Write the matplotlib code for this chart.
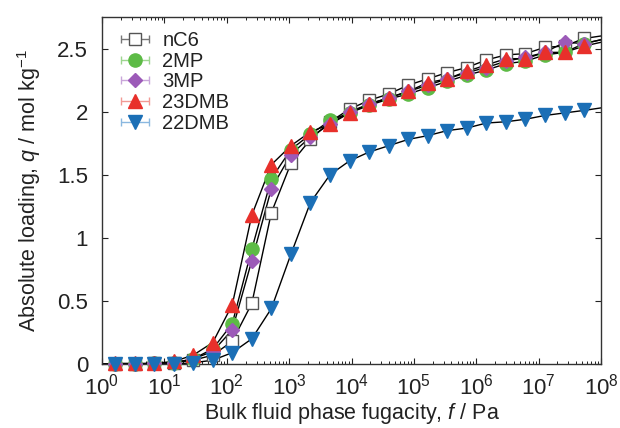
import numpy as np
import matplotlib
matplotlib.use("Agg")
import matplotlib.pyplot as plt
from matplotlib.legend_handler import HandlerErrorbar
from matplotlib.ticker import FuncFormatter, LogLocator, NullFormatter

plt.rcParams['font.family'] = ['Liberation Sans', 'DejaVu Sans']
plt.rcParams['mathtext.fontset'] = 'custom'
plt.rcParams['mathtext.rm'] = 'Liberation Sans'
plt.rcParams['mathtext.it'] = 'Liberation Sans:italic'
plt.rcParams['mathtext.default'] = 'regular'

# Bulk fluid phase fugacity, Pa
fugacity = [1.61, 3.32, 6.84, 14.1, 28.9, 59.6, 122.5, 252, 519, 1067,
            2193, 4519, 9290, 1.91e4, 3.94e4, 8.09e4, 1.66e5, 3.43e5,
            7.05e5, 1.45e6, 2.99e6, 6.14e6, 1.26e7, 2.60e7, 5.35e7]

# Absolute loadings, mol/kg
q_nC6 = [0.0, 0.0, 0.005, 0.01, 0.03, 0.07, 0.18, 0.48, 1.20, 1.59,
         1.78, 1.92, 2.02, 2.09, 2.14, 2.21, 2.26, 2.31, 2.35, 2.41,
         2.45, 2.46, 2.51, 2.52, 2.58]
q_2MP = [0.0, 0.0, 0.005, 0.01, 0.04, 0.12, 0.32, 0.91, 1.47, 1.70,
         1.82, 1.93, 1.99, 2.05, 2.10, 2.14, 2.19, 2.24, 2.29, 2.33,
         2.38, 2.40, 2.45, 2.47, 2.54]
q_3MP = [0.0, 0.0, 0.005, 0.01, 0.04, 0.10, 0.27, 0.82, 1.39, 1.66,
         1.80, 1.90, 2.00, 2.06, 2.11, 2.16, 2.21, 2.26, 2.31, 2.35,
         2.40, 2.43, 2.47, 2.55, 2.54]
q_23DMB = [0.005, 0.005, 0.005, 0.02, 0.07, 0.17, 0.47, 1.18, 1.58, 1.73,
           1.84, 1.90, 1.99, 2.06, 2.11, 2.16, 2.23, 2.26, 2.32, 2.37,
           2.42, 2.42, 2.47, 2.47, 2.52]
q_22DMB = [0.0, 0.0, 0.0, 0.0, 0.01, 0.03, 0.09, 0.20, 0.44, 0.87,
           1.28, 1.50, 1.61, 1.68, 1.73, 1.78, 1.81, 1.85, 1.87, 1.91,
           1.92, 1.94, 1.97, 1.99, 2.01]

# Loading of each fitted isotherm at the ends of the fugacity range
f_start, f_end = 1.0, 1.0e8
q_start = [0.0, 0.0, 0.0, 0.0, 0.0]
q_end = [2.60, 2.57, 2.57, 2.55, 2.03]

labels = ['nC6', '2MP', '3MP', '23DMB', '22DMB']
series = [q_nC6, q_2MP, q_3MP, q_23DMB, q_22DMB]
markers = ['s', 'o', 'D', '^', 'v']
sizes = [8, 9.5, 7, 9.5, 9.5]
faces = ['white', '#5dbb46', '#9c5ab8', '#e8302b', '#1b6fb6']
edges = ['#555555', '#5dbb46', '#9c5ab8', '#e8302b', '#1b6fb6']
err_colors = ['#777777', '#9ed690', '#c9a6da', '#f29a95', '#8ab8e0']

fig = plt.figure(figsize=(6.2, 4.28), dpi=100)
ax = fig.add_axes([0.1645, 0.1495, 0.805, 0.8107])

handles = []
for k, q in enumerate(series):
    ax.plot([f_start] + fugacity + [f_end], [q_start[k]] + q + [q_end[k]],
            color='black', lw=1.0, zorder=2)
    eb = ax.errorbar(fugacity, q, xerr=np.zeros(len(q)), fmt=markers[k],
                     ms=sizes[k], mfc=faces[k], mec=edges[k], mew=1.0,
                     ecolor=err_colors[k], elinewidth=1.0, capsize=3,
                     zorder=3 + k * 0.1, label=labels[k])
    eb[0].set_clip_on(False)
    handles.append(eb)

ax.set_xscale('log')
ax.set_xlim(1, 1e8)
ax.set_ylim(0, 2.75)
ax.set_yticks([0, 0.5, 1, 1.5, 2, 2.5])
ax.yaxis.set_major_formatter(FuncFormatter(lambda v, p: '%g' % v))
ax.xaxis.set_major_locator(LogLocator(base=10, numticks=20))
ax.xaxis.set_minor_locator(LogLocator(base=10, subs=np.arange(2, 10), numticks=100))
ax.xaxis.set_minor_formatter(NullFormatter())

ax.tick_params(which='both', direction='in', top=True, right=True,
               labelsize=16, colors='#222222')
ax.tick_params(axis='y', pad=10)
ax.tick_params(axis='x', pad=7)
ax.tick_params(which='major', length=4.5, width=0.8)
ax.tick_params(which='minor', length=2.5, width=0.7)
for s in ax.spines.values():
    s.set_color('#333333')
    s.set_linewidth(1.0)

ax.set_xlabel('Bulk fluid phase fugacity, $\\mathit{f}$ / Pa', fontsize=15.5,
              color='#222222', labelpad=1)
ax.set_ylabel('Absolute loading, $\\mathit{q}$ / mol kg$^{-1}$', fontsize=15.5,
              color='#222222', labelpad=10)

leg = ax.legend(handles=handles, loc='upper left', frameon=False, fontsize=14.5,
                handlelength=1.4, handletextpad=0.65, labelspacing=0.08,
                borderaxespad=0.3, bbox_to_anchor=(0.01, 1.0),
                handler_map={type(handles[0]): HandlerErrorbar(xerr_size=0.7)})
for t in leg.get_texts():
    t.set_color('#222222')

fig.savefig('out.png', dpi=100)
